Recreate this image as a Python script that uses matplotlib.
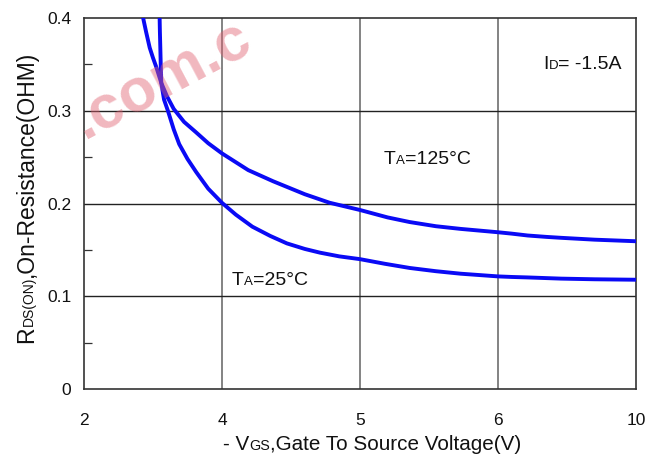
import numpy as np
import matplotlib
matplotlib.use("Agg")
import matplotlib.pyplot as plt
from matplotlib.transforms import IdentityTransform
from matplotlib.ticker import FixedLocator

plt.rcParams['font.family'] = ['Liberation Sans', 'DejaVu Sans']

# ---- data ----
vgs_125 = [2.857, 2.90, 2.952, 3.0, 3.048, 3.12, 3.2, 3.3, 3.45, 3.62, 3.8, 4.0, 4.19, 4.37,
           4.6, 4.78, 5.0, 5.2, 5.36, 5.55, 5.73, 6.0, 6.4, 6.86, 7.4, 7.83, 8.8, 10.0]
rds_125 = [0.400, 0.385, 0.368, 0.357, 0.347, 0.330, 0.316, 0.302, 0.288, 0.277, 0.265, 0.254, 0.236, 0.224,
           0.210, 0.2008, 0.193, 0.185, 0.180, 0.1755, 0.1726, 0.169, 0.1675, 0.1655, 0.164, 0.163, 0.161, 0.1593]

vgs_25 = [3.096, 3.10, 3.106, 3.112, 3.12, 3.16, 3.216, 3.3, 3.38, 3.5, 3.625, 3.8, 4.0, 4.1, 4.22,
          4.35, 4.47, 4.6, 4.71, 4.85, 5.0, 5.18, 5.36, 5.55, 5.73, 6.0, 6.4, 6.85, 7.83, 8.8, 10.0]
rds_25 = [0.400, 0.385, 0.368, 0.350, 0.330, 0.312, 0.300, 0.280, 0.264, 0.248, 0.234, 0.216, 0.2007, 0.188, 0.175,
          0.165, 0.157, 0.151, 0.147, 0.143, 0.140, 0.135, 0.1305, 0.127, 0.1243, 0.1214, 0.1208, 0.1203, 0.119, 0.1183, 0.1178]

x_ticks = [2, 4, 5, 6, 10]
y_ticks = [0, 0.1, 0.2, 0.3, 0.4]
y_tick_labels = ['0', '0.1', '0.2', '0.3', '0.4']
y_minor = [0.05, 0.15, 0.25, 0.35]

W, H = 657, 457
fig = plt.figure(figsize=(W / 100, H / 100), dpi=100)
ax = fig.add_axes([84 / W, 1 - 389 / H, 552 / W, 371 / H])

pos = [0, 1, 2, 3, 4]
fwd = lambda x: np.interp(x, x_ticks, pos)
inv = lambda y: np.interp(y, pos, x_ticks)
ax.set_xscale('function', functions=(fwd, inv))
ax.set_xlim(2, 10)
ax.set_ylim(0, 0.4)
ax.set_xticks(x_ticks)
ax.set_xticklabels([str(v) for v in x_ticks])
ax.set_yticks(y_ticks)
ax.set_yticklabels(y_tick_labels)
ax.yaxis.set_minor_locator(FixedLocator(y_minor))
ax.xaxis.set_minor_locator(FixedLocator([]))

ax.tick_params(axis='x', which='major', length=0, pad=17, labelsize=12.5, colors='#111111')
ax.tick_params(axis='y', which='major', length=0, pad=9, labelsize=12.5, colors='#111111')
ax.tick_params(axis='y', which='minor', direction='in', length=6, width=0.9, color='#333333')

for x in [4, 5, 6]:
    ax.axvline(x, color='#7a7a7a', lw=1.3, zorder=1)
for y in [0.1, 0.2, 0.3]:
    ax.axhline(y, color='#222222', lw=1.0, zorder=1)
for s in ax.spines.values():
    s.set_color('#333333')
    s.set_linewidth(1.2)

ax.plot(vgs_125, rds_125, color='#0a0af5', lw=2.8, zorder=3, solid_joinstyle='round')
ax.plot(vgs_25, rds_25, color='#0a0af5', lw=2.8, zorder=3, solid_joinstyle='round')

# ---- rich text helper (pixel coordinates, image y from top) ----
renderer = fig.canvas.get_renderer()

def rich(x_img, y_img, pieces, rotation=0, color='#111111'):
    x0, y0 = x_img, H - y_img
    off = 0.0
    for s, size in pieces:
        tmp = fig.text(0, 0, s, fontsize=size, transform=IdentityTransform())
        w = tmp.get_window_extent(renderer).width
        tmp.remove()
        if rotation == 90:
            xx, yy = x0, y0 + off
        else:
            xx, yy = x0 + off, y0
        fig.text(xx, yy, s, fontsize=size, ha='left', va='baseline', rotation=rotation,
                 rotation_mode='anchor', transform=IdentityTransform(), color=color)
        off += w

rich(543, 69, [('I', 14), ('D', 9.5), ('= -1.5A', 14)])
rich(384, 164, [('T', 14), ('A', 9.5), ('=125°C', 14)])
rich(232, 285, [('T', 14), ('A', 9.5), ('=25°C', 14)])
rich(223, 450, [('- V', 14.9), ('GS', 10.3), (',Gate To Source Voltage(V)', 14.9)])
rich(33, 343, [('R', 16.5), ('DS(ON)', 10), (',On-Resistance(OHM)', 16.5)], rotation=90)

# watermark
fig.text(85, H - 140, '.com.c', fontsize=44, fontweight='bold', color='#e06070', alpha=0.45,
         rotation=28, rotation_mode='anchor', ha='left', va='baseline',
         transform=IdentityTransform(), zorder=10)

fig.savefig('out.png', dpi=100)
